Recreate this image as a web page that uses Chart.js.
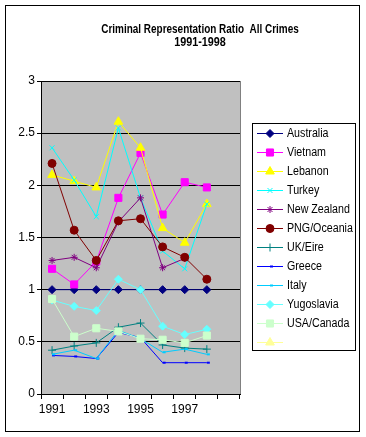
<!DOCTYPE html>
<html>
<head>
<meta charset="utf-8">
<script src="https://cdn.jsdelivr.net/npm/chart.js@4"></script>
<style>
  body { margin: 0; background: #fff; }
  #wrap { width: 366px; height: 437px; }
</style>
</head>
<body>
<div id="wrap"><canvas id="chart" width="366" height="437"></canvas></div>
<script>
// Criminal Representation Ratio - All Crimes 1991-1998

const years = ['1991', '1992', '1993', '1994', '1995', '1996', '1997', '1998', ''];
const yTicks = [0, 0.5, 1, 1.5, 2, 2.5, 3];

const australia  = [1.00, 1.00, 1.00, 1.00, 1.00, 1.00, 1.00, 1.00];
const vietnam    = [1.20, 1.05, 1.27, 1.88, 2.31, 1.72, 2.03, 1.98];
const lebanon    = [2.10, 2.04, 1.98, 2.61, 2.36, 1.59, 1.45, 1.82];
const turkey     = [2.36, 2.05, 1.70, 2.55, 1.88, 1.37, 1.20, 1.82];
const newZealand = [1.28, 1.31, 1.21, 1.65, 1.88, 1.21, 1.30, null];
const pngOceania = [2.21, 1.57, 1.28, 1.66, 1.68, 1.41, 1.31, 1.10];
const ukEire     = [0.42, 0.46, 0.49, 0.64, 0.68, 0.47, 0.44, 0.43];
const greece     = [0.37, 0.36, 0.34, 0.59, 0.54, 0.30, 0.30, 0.30];
const italy      = [0.38, 0.42, 0.34, 0.61, 0.53, 0.40, 0.43, 0.38];
const yugoslavia = [0.90, 0.84, 0.80, 1.10, 1.00, 0.65, 0.57, 0.62];
const usaCanada  = [0.91, 0.55, 0.63, 0.60, 0.53, 0.52, 0.49, 0.56];
const unnamed    = [];

const FONT = 'Arial, "Liberation Sans", sans-serif';

function series(label, data, color, style, radius, width) {
    return {
        label: label,
        data: data,
        borderColor: color,
        backgroundColor: color,
        borderWidth: 1,
        pointStyle: style,
        pointRadius: radius,
        pointHoverRadius: radius,
        pointBackgroundColor: color,
        pointBorderColor: color,
        pointBorderWidth: width || 1,
        tension: 0,
        spanGaps: false
    };
}

const datasets = [
    series('Australia', australia, '#000080', 'rectRot', 4),
    series('Vietnam', vietnam, '#ff00ff', 'rect', 5),
    series('Lebanon', lebanon, '#ffff00', 'triangle', 5),
    series('Turkey', turkey, '#00ffff', 'crossRot', 3.5),
    series('New Zealand', newZealand, '#800080', 'star', 3.5),
    series('PNG/Oceania', pngOceania, '#800000', 'circle', 4),
    series('UK/Eire', ukEire, '#008080', 'cross', 4),
    series('Greece', greece, '#0000ff', 'dash', 3, 2),
    series('Italy', italy, '#00ccff', 'dash', 3, 2),
    series('Yugoslavia', yugoslavia, '#66ffff', 'rectRot', 4),
    series('USA/Canada', usaCanada, '#ccffcc', 'rect', 5),
    series('', unnamed, '#ffff99', 'triangle', 5)
];
// later series on top, like the original
datasets.forEach((d, i) => { d.order = datasets.length - i; });

// narrow text, the original uses a tight bitmap font
function narrowText(ctx, text, x, y, sx) {
    ctx.save();
    ctx.translate(x, y);
    ctx.scale(sx, 1);
    ctx.fillText(text, 0, 0);
    ctx.restore();
}

// Frame, plot background, title and legend
const decor = {
    id: 'decor',
    beforeDraw(chart) {
        const ctx = chart.ctx;
        const a = chart.chartArea;
        ctx.save();
        ctx.fillStyle = '#ffffff';
        ctx.fillRect(0, 0, chart.width, chart.height);
        ctx.fillStyle = '#c0c0c0';
        ctx.fillRect(a.left, a.top, a.right - a.left, a.bottom - a.top);
        ctx.strokeStyle = '#808080';
        ctx.lineWidth = 1;
        ctx.strokeRect(a.left + 0.5, a.top + 0.5, a.right - a.left, a.bottom - a.top);
        ctx.restore();
    },
    afterDraw(chart) {
        const ctx = chart.ctx;
        ctx.save();
        // outer border
        ctx.strokeStyle = '#000';
        ctx.lineWidth = 1;
        ctx.strokeRect(5.5, 5.5, 354, 426);

        // title
        ctx.fillStyle = '#000';
        ctx.font = 'bold 12px ' + FONT;
        ctx.textAlign = 'center';
        ctx.textBaseline = 'middle';
        narrowText(ctx, 'Criminal Representation Ratio  All Crimes', 200, 30, 0.83);
        narrowText(ctx, '1991-1998', 200, 43, 0.9);

        // legend
        ctx.fillStyle = '#fff';
        ctx.fillRect(252.5, 123.5, 103, 227);
        ctx.strokeRect(252.5, 123.5, 103, 227);
        ctx.font = '12px ' + FONT;
        ctx.textAlign = 'left';
        chart.data.datasets.forEach((ds, i) => {
            const y = Math.round(133.3 + i * 18.95) + 0.5;
            ctx.strokeStyle = ds.borderColor;
            ctx.lineWidth = 1;
            ctx.beginPath();
            ctx.moveTo(257, y);
            ctx.lineTo(283, y);
            ctx.stroke();
            ctx.fillStyle = ds.pointBackgroundColor;
            ctx.strokeStyle = ds.pointBorderColor;
            ctx.lineWidth = ds.pointBorderWidth;
            Chart.helpers.drawPoint(ctx, {
                pointStyle: ds.pointStyle,
                radius: ds.pointRadius,
                borderWidth: ds.pointBorderWidth,
                rotation: 0
            }, 270, y);
            ctx.fillStyle = '#000';
            narrowText(ctx, ds.label, 287, y + 0.5, 0.89);
        });
        ctx.restore();
    }
};

new Chart(document.getElementById('chart'), {
    type: 'line',
    data: { labels: years, datasets: datasets },
    plugins: [decor],
    options: {
        responsive: false,
        animation: false,
        events: [],
        layout: { padding: { left: 1, right: 126, top: 81, bottom: 0 } },
        plugins: {
            legend: { display: false },
            title: { display: false },
            tooltip: { enabled: false }
        },
        scales: {
            x: {
                type: 'category',
                offset: true,
                grid: {
                    offset: true,
                    drawOnChartArea: false,
                    drawTicks: true,
                    tickLength: 5,
                    color: '#000'
                },
                border: { color: '#000', width: 1 },
                ticks: {
                    autoSkip: false,
                    maxRotation: 0,
                    color: '#000',
                    padding: 3,
                    font: { family: FONT, size: 12 },
                    callback: function(value, index) {
                        return index % 2 === 0 ? this.getLabelForValue(value) : '';
                    }
                },
                afterFit(scale) { scale.height = 43; }
            },
            y: {
                min: 0,
                max: 3,
                afterBuildTicks(scale) {
                    scale.ticks = yTicks.map(v => ({ value: v }));
                },
                grid: {
                    color: '#000',
                    lineWidth: 1,
                    drawTicks: true,
                    tickLength: 4
                },
                border: { color: '#000', width: 1 },
                ticks: {
                    color: '#000',
                    padding: 2,
                    font: { family: FONT, size: 12 },
                    callback: (value) => String(value)
                },
                afterFit(scale) { scale.width = 40; }
            }
        }
    }
});
</script>
</body>
</html>
